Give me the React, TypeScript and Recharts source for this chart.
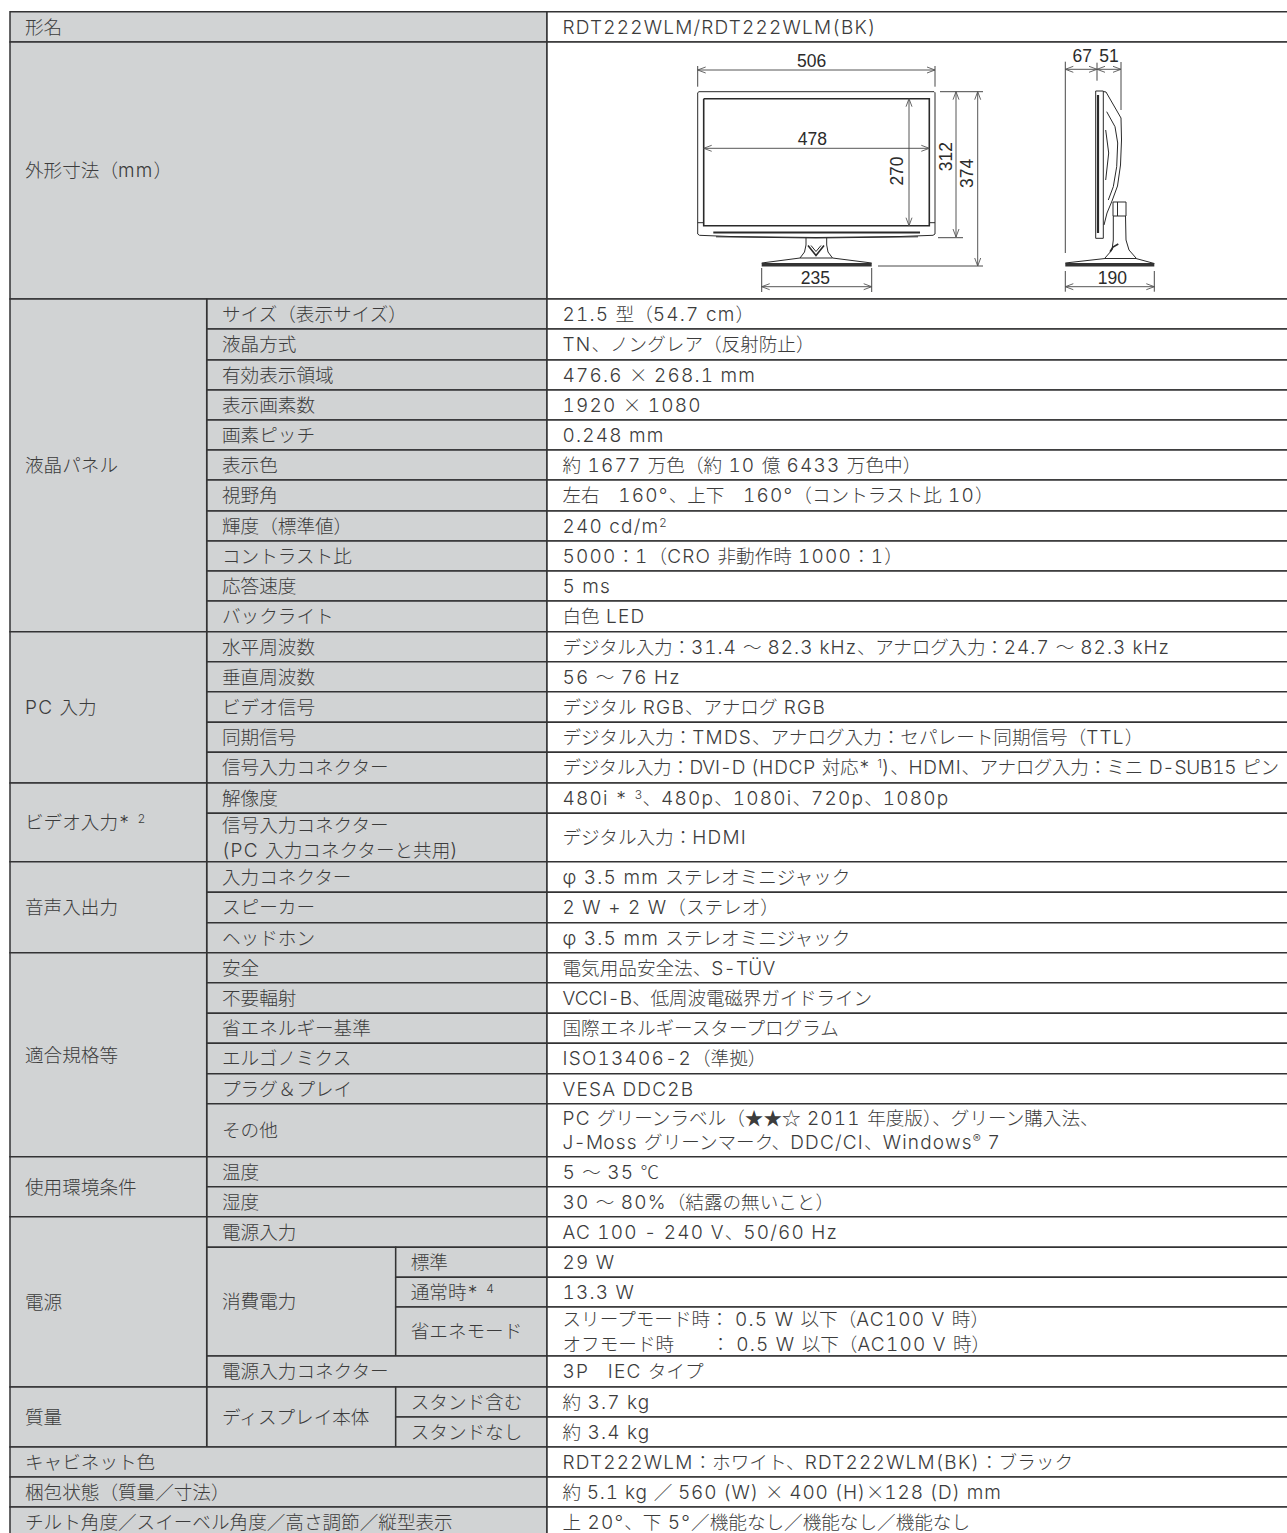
import React from 'react';
import { ReferenceArea, Scatter, ScatterChart, XAxis, YAxis } from 'recharts';

const WIDTH = 1287;
const HEIGHT = 1533;

const groupNames = [
  '形名', '外形寸法（mm）', '液晶パネル', 'PC 入力', 'ビデオ入力* ^2', '音声入出力', '適合規格等',
  '使用環境条件', '電源', '質量', 'キャビネット色', '梱包状態（質量／寸法）',
  'チルト角度／スイーベル角度／高さ調節／縦型表示',
];

type Item = string | { name: string; subs: string[] };

const itemsByGroup: Item[][] = [
  [],
  [],
  ['サイズ（表示サイズ）', '液晶方式', '有効表示領域', '表示画素数', '画素ピッチ', '表示色', '視野角', '輝度（標準値）', 'コントラスト比', '応答速度', 'バックライト'],
  ['水平周波数', '垂直周波数', 'ビデオ信号', '同期信号', '信号入力コネクター'],
  ['解像度', '信号入力コネクター\n(PC 入力コネクターと共用)'],
  ['入力コネクター', 'スピーカー', 'ヘッドホン'],
  ['安全', '不要輻射', '省エネルギー基準', 'エルゴノミクス', 'プラグ＆プレイ', 'その他'],
  ['温度', '湿度'],
  ['電源入力', { name: '消費電力', subs: ['標準', '通常時* ^4', '省エネモード'] }, '電源入力コネクター'],
  [{ name: 'ディスプレイ本体', subs: ['スタンド含む', 'スタンドなし'] }],
  [],
  [],
  [],
];

const valueTexts = [
  'RDT222WLM/RDT222WLM(BK)',
  '',
  '21.5 型（54.7 cm）',
  'TN、ノングレア（反射防止）',
  '476.6 × 268.1 mm',
  '1920 × 1080',
  '0.248 mm',
  '約 1677 万色（約 10 億 6433 万色中）',
  '左右　160°、上下　160°（コントラスト比 10）',
  '240 cd/m^2',
  '5000：1（CRO 非動作時 1000：1）',
  '5 ms',
  '白色 LED',
  'デジタル入力：31.4 〜 82.3 kHz、アナログ入力：24.7 〜 82.3 kHz',
  '56 〜 76 Hz',
  'デジタル RGB、アナログ RGB',
  'デジタル入力：TMDS、アナログ入力：セパレート同期信号（TTL）',
  'デジタル入力：DVI-D (HDCP 対応* ^1)、HDMI、アナログ入力：ミニ D-SUB15 ピン',
  '480i * ^3、480p、1080i、720p、1080p',
  'デジタル入力：HDMI',
  'φ 3.5 mm ステレオミニジャック',
  '2 W + 2 W（ステレオ）',
  'φ 3.5 mm ステレオミニジャック',
  '電気用品安全法、S-TÜV',
  'VCCI-B、低周波電磁界ガイドライン',
  '国際エネルギースタープログラム',
  'ISO13406-2（準拠）',
  'VESA DDC2B',
  'PC グリーンラベル（★★☆ 2011 年度版）、グリーン購入法、\nJ-Moss グリーンマーク、DDC/CI、Windows^® 7',
  '5 〜 35 ℃',
  '30 〜 80%（結露の無いこと）',
  'AC 100 - 240 V、50/60 Hz',
  '29 W',
  '13.3 W',
  'スリープモード時： 0.5 W 以下（AC100 V 時）\nオフモード時　　： 0.5 W 以下（AC100 V 時）',
  '3P　IEC タイプ',
  '約 3.7 kg',
  '約 3.4 kg',
  'RDT222WLM：ホワイト、RDT222WLM(BK)：ブラック',
  '約 5.1 kg ／ 560 (W) × 400 (H)×128 (D) mm',
  '上 20°、下 5°／機能なし／機能なし／機能なし',
];

// measured widths of the long lines that the installed fonts would overrun
const fittedLineWidths: Record<number, number> = { 13: 607.5, 17: 716.5, 24: 309.5, 39: 439.5 };

const rowEdges = [
  11.7, 42, 299, 329, 360, 390, 420, 450, 480, 511, 541, 571, 601, 631.7, 661.7, 691.7, 722.3, 752.3, 783, 813.3,
  861.7, 892.3, 922.7, 952.7, 982.7, 1013.3, 1043.3, 1073.7, 1103.7, 1156.7, 1186.7, 1216.7, 1247.3, 1277.3, 1307,
  1356, 1387, 1417, 1447, 1477, 1507, 1537,
];
const colEdges = [10, 206.7, 395.7, 547, 1292];
const colTextX = [25, 222, 410.7, 562.5];

// outline drawing of the monitor
type Pt = [number, number];
const frontOutline: Pt[] = [[699, 91.7], [934, 91.7], [935, 92.7], [935, 234], [933, 235.3], [900, 236.5], [816, 237.5], [730, 236.5], [699.5, 235.3], [697.7, 234], [697.7, 92.7], [699, 91.7]];
const frontScreen: Pt[] = [[703.7, 98.7], [929.3, 98.7], [929.3, 225.7], [703.7, 225.7], [703.7, 98.7]];
const frontSpeaker: Pt[] = [[713.3, 232.5], [920, 232.5]];
const frontLip: Pt[] = [[716, 236.8], [816, 238], [918, 236.8]];
const bezelLeft: Pt[] = [[697.7, 222.7], [703.7, 222.7]];
const bezelRight: Pt[] = [[929.3, 222.7], [935, 222.7]];
const neckLeft: Pt[] = [[806, 238], [806, 245], [804.5, 252], [800, 258]];
const neckRight: Pt[] = [[826.7, 238], [826.7, 245], [828, 252], [832.5, 258]];
const neckV: Pt[] = [[808, 245.5], [816, 255.5], [824, 245.5]];
const neckVInner: Pt[] = [[811, 245.5], [816, 251.5], [821, 245.5]];
const baseTop: Pt[] = [[761.7, 263], [800, 258], [832.5, 258], [871.7, 263]];
const baseBand: Pt[] = [[761.7, 264.8], [871.7, 264.8]];
const sidePanel: Pt[] = [[1095.7, 91], [1103.3, 91], [1103.3, 238.3], [1095.7, 238.3], [1095.7, 91]];
const sidePanelInner: Pt[] = [[1098, 95], [1098, 233]];
const sideShell: Pt[] = [[1103.3, 91.5], [1106, 92], [1121, 118], [1121.5, 140], [1120.5, 165], [1117.5, 186], [1112, 201], [1107, 213], [1104, 225]];
const sideInner: Pt[] = [[1106.7, 111.7], [1115, 126.7], [1117.7, 143], [1116.7, 166.7], [1113.3, 186.7], [1108.3, 200]];
const sideInner2: Pt[] = [[1105.7, 130], [1108.7, 153], [1105.7, 180]];
const sideHinge: Pt[] = [[1113, 202], [1126, 202], [1126, 216], [1113, 216], [1113, 202]];
const sideHingeMid: Pt[] = [[1117.5, 202], [1117.5, 216]];
const pillarLeft: Pt[] = [[1113.3, 216], [1113.3, 240], [1112, 250], [1105, 258]];
const pillarRight: Pt[] = [[1125.5, 216], [1126, 240], [1129, 250], [1136, 258]];
const pillarSwoosh: Pt[] = [[1110, 251.7], [1113, 247], [1118.3, 244]];
const sideBaseTop: Pt[] = [[1065.3, 263], [1105, 258.5], [1136, 258.5], [1154.3, 263.5]];
const sideBaseBand: Pt[] = [[1065.3, 264.8], [1154.3, 264.8]];

const thinOutlines = [frontOutline, frontLip, bezelLeft, bezelRight, neckLeft, neckRight, neckVInner, baseTop, sidePanel, sideShell, sideInner, sideInner2, sideHinge, sideHingeMid, pillarLeft, pillarRight, sideBaseTop];
const mediumOutlines = [frontScreen, neckV, pillarSwoosh];
const thickOutlines = [frontSpeaker, sidePanelInner];
const bandOutlines = [baseBand, sideBaseBand];

// dimension lines: from, to
const dimensionArrows: [Pt, Pt][] = [
  [[697.7, 70], [935, 70]],
  [[703.7, 148.3], [929.3, 148.3]],
  [[909, 98.7], [909, 225.7]],
  [[956, 91.7], [956, 237]],
  [[977.7, 91.7], [977.7, 266]],
  [[761.7, 286.7], [871.7, 286.7]],
  [[1065.3, 69.3], [1097, 69.3]],
  [[1097, 69.3], [1121, 69.3]],
  [[1065.3, 286.7], [1154.3, 286.7]],
];
const extensionLines: [Pt, Pt][] = [
  [[697.7, 66], [697.7, 86.7]],
  [[935, 66], [935, 86.7]],
  [[940, 91.7], [983, 91.7]],
  [[938, 237.7], [963, 237.7]],
  [[878, 266], [983, 266]],
  [[761.7, 268], [761.7, 292]],
  [[871.7, 268], [871.7, 292]],
  [[1065.3, 61.7], [1065.3, 253]],
  [[1097, 62.7], [1097, 80.7]],
  [[1121, 62], [1121, 110]],
  [[1065.3, 271], [1065.3, 291.7]],
  [[1154.3, 271], [1154.3, 291.7]],
];
const dimensionLabels = ['506', '478', '270', '312', '374', '235', '67', '51', '190'];
const dimensionLabelAt: Pt[] = [[811.7, 60.7], [812.3, 139.3], [897.3, 171], [945.7, 156.7], [967.3, 173.3], [815.3, 277.7], [1082.3, 55.7], [1109, 55.7], [1112.3, 278.3]];
const dimensionLabelTurned = [false, false, true, true, true, false, false, false, false];

const arrowHead = (tip: Pt, from: Pt): Pt[] => {
  const len = Math.hypot(from[0] - tip[0], from[1] - tip[1]);
  const ux = (from[0] - tip[0]) / len;
  const uy = (from[1] - tip[1]) / len;
  return [
    [tip[0] + ux * 8 - uy * 3, tip[1] + uy * 8 + ux * 3],
    tip,
    [tip[0] + ux * 8 + uy * 3, tip[1] + uy * 8 - ux * 3],
  ];
};

const INK = '#3c3c3c';
const LINE = '#333334';
const GRAY = '#d1d3d4';
const CJK = '"Noto Sans CJK JP", sans-serif';
const LATIN = 'Inter, "Noto Sans CJK JP", sans-serif';

type Cell = { x1: number; x2: number; y1: number; y2: number; gray: boolean };
type Label = { x: number; y: number; text: string; fit?: number };

const cells: Cell[] = [];
const labels: Label[] = [];

const addLabel = (x: number, top: number, bottom: number, text: string, fit?: number) => {
  const lines = text.split('\n');
  const mid = (top + bottom) / 2;
  lines.forEach((line, i) => labels.push({ x, y: mid + (i - (lines.length - 1) / 2) * 24.6, text: line, fit }));
};

const addCell = (c1: number, c2: number, r1: number, r2: number, text: string, gray = true, fit?: number) => {
  cells.push({ x1: colEdges[c1], x2: colEdges[c2], y1: rowEdges[r1], y2: rowEdges[r2], gray });
  if (text) addLabel(colTextX[c1], rowEdges[r1], rowEdges[r2], text, fit);
};

let row = 0;
groupNames.forEach((group, g) => {
  const items = itemsByGroup[g];
  if (items.length === 0) {
    addCell(0, 3, row, row + 1, group);
    row += 1;
    return;
  }
  const start = row;
  items.forEach((item) => {
    if (typeof item === 'string') {
      addCell(1, 3, row, row + 1, item);
      row += 1;
    } else {
      addCell(1, 2, row, row + item.subs.length, item.name);
      item.subs.forEach((sub) => {
        addCell(2, 3, row, row + 1, sub);
        row += 1;
      });
    }
  });
  addCell(0, 1, start, row, group);
});
valueTexts.forEach((value, i) => addCell(3, 4, i, i + 1, value, false, fittedLineWidths[i]));

const LATIN_RUN = /([\x20-\x7E\u00A0-\u00D6\u00D8-\u00FFφ]+)/;
const HYPHENATED = /([A-Z]+-[A-Z0-9Ü]+)/;

const textRuns = (text: string) => {
  const out: React.ReactNode[] = [];
  let pendingDy = 0;
  const pushRun = (key: string, run: string, latin: boolean, spacing: number) => {
    out.push(
      <tspan
        key={key}
        dy={pendingDy || undefined}
        fontFamily={latin ? LATIN : CJK}
        fontSize={latin ? 19 : 18.6}
        letterSpacing={spacing}
        style={{ whiteSpace: 'pre', fontVariantNumeric: 'tabular-nums' }}
      >
        {run}
      </tspan>,
    );
    pendingDy = 0;
  };
  text.split(/(\^.)/u).forEach((part, i) => {
    if (part.startsWith('^')) {
      out.push(
        <tspan key={`s${i}`} dy={-6} fontSize={12} fontFamily={LATIN} letterSpacing={0.5}>
          {part.slice(1)}
        </tspan>,
      );
      pendingDy = 6;
      return;
    }
    part.split(LATIN_RUN).forEach((run, j) => {
      if (!run) return;
      if (!LATIN_RUN.test(run)) {
        pushRun(`${i}-${j}`, run, false, 0);
        return;
      }
      run.split(HYPHENATED).forEach((piece, k) => {
        if (piece) pushRun(`${i}-${j}-${k}`, piece, true, HYPHENATED.test(piece) ? 0.2 : 1.2);
      });
    });
  });
  return out;
};

const TableText = (props: any) => {
  const { cx, cy, payload } = props;
  return (
    <text
      x={cx}
      y={cy + 6.8}
      fill={INK}
      fontWeight={300}
      textLength={payload.fit}
      lengthAdjust={payload.fit ? 'spacing' : undefined}
      style={{ whiteSpace: 'pre' }}
    >
      {textRuns(payload.text)}
    </text>
  );
};

const DimensionText = (props: any) => {
  const { cx, cy, payload } = props;
  return (
    <text
      x={cx}
      y={cy}
      fill="#2b2b2b"
      fontFamily='"Liberation Sans", Arial, sans-serif'
      fontSize={17.5}
      textAnchor="middle"
      dominantBaseline="central"
      transform={payload.turned ? `rotate(-90 ${cx} ${cy})` : undefined}
    >
      {payload.text}
    </text>
  );
};

const NoMark = () => <g />;

const toPoints = (pts: Pt[]) => pts.map(([x, y]) => ({ x, y }));

const polyline = (key: string, pts: Pt[], stroke: string, strokeWidth: number) => (
  <Scatter
    key={key}
    data={toPoints(pts)}
    line={{ stroke, strokeWidth, fill: 'none' }}
    lineType="joint"
    shape={NoMark}
    isAnimationActive={false}
  />
);

const dimensionData = dimensionLabels.map((text, i) => ({
  x: dimensionLabelAt[i][0],
  y: dimensionLabelAt[i][1],
  text,
  turned: dimensionLabelTurned[i],
}));

export default function App() {
  return (
    <div style={{ position: 'absolute', left: 0, top: 0, width: WIDTH, height: HEIGHT, background: '#fff', overflow: 'hidden' }}>
      <ScatterChart width={WIDTH} height={HEIGHT} margin={{ top: 0, right: 0, bottom: 0, left: 0 }}>
        <XAxis type="number" dataKey="x" domain={[0, WIDTH]} hide allowDataOverflow />
        <YAxis type="number" dataKey="y" domain={[0, HEIGHT]} reversed hide allowDataOverflow />
        {cells.map((c, i) => (
          <ReferenceArea
            key={i}
            x1={c.x1}
            x2={c.x2}
            y1={c.y1}
            y2={c.y2}
            fill={c.gray ? GRAY : '#fff'}
            fillOpacity={1}
            stroke={LINE}
            strokeWidth={1.5}
            ifOverflow="visible"
          />
        ))}
        {thinOutlines.map((pts, i) => polyline(`thin${i}`, pts, '#2a2a2a', 1))}
        {mediumOutlines.map((pts, i) => polyline(`med${i}`, pts, '#2a2a2a', 1.6))}
        {thickOutlines.map((pts, i) => polyline(`thick${i}`, pts, '#2a2a2a', 2.2))}
        {bandOutlines.map((pts, i) => polyline(`band${i}`, pts, '#333', 3.6))}
        {extensionLines.map((pts, i) => polyline(`ext${i}`, pts, '#333', 0.9))}
        {dimensionArrows.map((pts, i) => polyline(`dim${i}`, pts, '#444', 0.9))}
        {dimensionArrows.map(([a, b], i) => polyline(`headA${i}`, arrowHead(a, b), '#555', 0.9))}
        {dimensionArrows.map(([a, b], i) => polyline(`headB${i}`, arrowHead(b, a), '#555', 0.9))}
        <Scatter data={labels} shape={TableText} isAnimationActive={false} />
        <Scatter data={dimensionData} shape={DimensionText} isAnimationActive={false} />
      </ScatterChart>
    </div>
  );
}
